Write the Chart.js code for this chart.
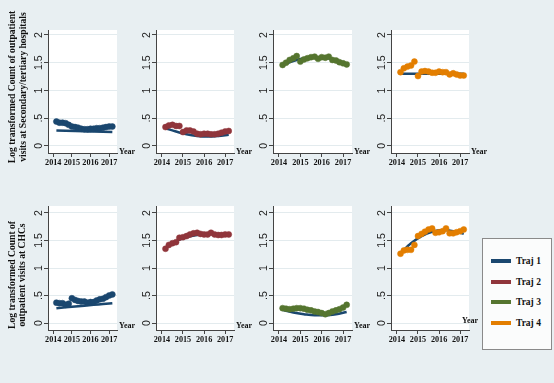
<!DOCTYPE html>
<html><head><meta charset="utf-8">
<script src="https://cdn.jsdelivr.net/npm/chart.js@4"></script>
<style>
html,body{margin:0;padding:0;background:#e8eff2;}
#wrap{position:relative;width:554px;height:383px;overflow:hidden;background:#e8eff2;}
canvas{position:absolute;left:0;top:0;}
#legend{position:absolute;left:482px;top:238px;width:70px;height:112px;border:1px solid #8a8a8a;background:#fbfcfc;box-sizing:border-box;}
.item{position:absolute;left:8px;height:14px;display:flex;align-items:center;font:bold 9.5px "Liberation Serif",serif;color:#111;white-space:nowrap;}
.sw{width:20px;height:4px;margin-right:5px;}
</style></head>
<body><div id="wrap"><div id="legend"></div></div>
<script>
// ---------- data ----------
const trajNames = ["Traj 1","Traj 2","Traj 3","Traj 4"];
const trajColors = ["#1a476f","#90353b","#55752f","#e37e00"];
const fitColor = "#1a476f";
const months = [2014.17,2014.33,2014.5,2014.67,2014.83,2015.0,2015.17,2015.33,2015.5,2015.67,2015.83,2016.0,2016.17,2016.33,2016.5,2016.67,2016.83,2017.0,2017.17];
const fitYears = [2014.17,2014.67,2015.17,2015.67,2016.17,2016.67,2017.17];
const xTickYears = [2014,2015,2016,2017];
const yTickValues = [0,0.5,1,1.5,2];
const yTickLabels = ["0",".5","1","1.5","2"];
const xTitle = "Year";
const rowTitles = [["Log transformed Count of outpatient","visits at Secondary/tertiary hospitals"],["Log transformed Count of","outpatient visits at CHCs"]];

// Secondary/tertiary hospitals (observed means and fitted trajectories)
const hospObs1 = [0.44,0.42,0.42,0.41,0.38,0.35,0.34,0.33,0.31,0.30,0.30,0.31,0.31,0.32,0.32,0.33,0.34,0.35,0.35];
const hospFit1 = [0.28,0.275,0.27,0.265,0.26,0.255,0.25];
const hospObs2 = [0.34,0.37,0.38,0.36,0.36,0.25,0.28,0.28,0.26,0.22,0.21,0.22,0.22,0.21,0.21,0.22,0.24,0.26,0.27];
const hospFit2 = [0.32,0.26,0.21,0.18,0.17,0.18,0.20];
const hospObs3 = [1.46,1.50,1.55,1.58,1.62,1.52,1.56,1.58,1.60,1.61,1.57,1.60,1.59,1.61,1.55,1.54,1.51,1.49,1.47];
const hospFit3 = [1.46,1.53,1.58,1.60,1.59,1.55,1.48];
const hospObs4 = [1.33,1.40,1.43,1.45,1.52,1.26,1.34,1.35,1.34,1.32,1.32,1.34,1.33,1.33,1.29,1.31,1.29,1.27,1.27];
const hospFit4 = [1.30,1.30,1.30,1.30,1.30,1.30,1.30];
// CHCs
const chcObs1 = [0.37,0.36,0.36,0.33,0.35,0.45,0.42,0.40,0.39,0.39,0.37,0.38,0.38,0.41,0.43,0.44,0.47,0.50,0.52];
const chcFit1 = [0.27,0.285,0.30,0.315,0.33,0.345,0.36];
const chcObs2 = [1.35,1.42,1.45,1.47,1.55,1.56,1.58,1.61,1.63,1.64,1.62,1.61,1.61,1.64,1.61,1.60,1.60,1.61,1.61];
const chcFit2 = [1.37,1.49,1.56,1.60,1.62,1.62,1.61];
const chcObs3 = [0.27,0.26,0.25,0.26,0.27,0.27,0.26,0.24,0.23,0.21,0.20,0.18,0.16,0.18,0.21,0.23,0.25,0.28,0.33];
const chcFit3 = [0.24,0.19,0.16,0.14,0.14,0.16,0.20];
const chcObs4 = [1.26,1.32,1.33,1.33,1.42,1.58,1.62,1.66,1.70,1.72,1.64,1.65,1.67,1.72,1.63,1.63,1.65,1.67,1.70];
const chcFit4 = [1.27,1.45,1.58,1.66,1.69,1.67,1.62];

const obsByRow = [[hospObs1,hospObs2,hospObs3,hospObs4],[chcObs1,chcObs2,chcObs3,chcObs4]];
const fitByRow = [[hospFit1,hospFit2,hospFit3,hospFit4],[chcFit1,chcFit2,chcFit3,chcFit4]];

// ---------- layout ----------
const W = 554, H = 383;
const rowsGeo = [{top:30,bottom:153,yMin:-0.127,yMax:2.09},{top:206,bottom:330,yMin:-0.127,yMax:2.127}];
const colsGeo = [{left:48,right:117},{left:156,right:234},{left:273,right:352},{left:391,right:469}];
const xMin = 2013.72, xMax = 2017.42;
const yAxisW = 4, xAxisH = 20;
const axisColor = "#444";
const gridColor = "#e3ebee";

// legend
const leg = document.getElementById('legend');
const legRows = [23,44,64,85];
trajNames.forEach((n,i)=>{
  const d = document.createElement('div'); d.className='item'; d.style.top=(legRows[i]-7-1)+'px';
  const s = document.createElement('div'); s.className='sw'; s.style.background=trajColors[i];
  const t = document.createElement('span'); t.textContent=n;
  d.appendChild(s); d.appendChild(t); leg.appendChild(d);
});

function panelPlugin(r,c){
  return {
    id:'panel'+r+c,
    beforeDraw(chart){
      const a = chart.chartArea, ctx = chart.ctx;
      ctx.save(); ctx.fillStyle='#ffffff'; ctx.fillRect(a.left,a.top,a.right-a.left,a.bottom-a.top); ctx.restore();
    },
    afterDraw(chart){
      const a = chart.chartArea, ctx = chart.ctx, ys = chart.scales.y;
      ctx.save();
      ctx.fillStyle='#222'; ctx.font='10.5px "Liberation Sans", sans-serif';
      ctx.textAlign='center'; ctx.textBaseline='middle';
      yTickValues.forEach((v,i)=>{
        const py = ys.getPixelForValue(v);
        ctx.save(); ctx.translate(a.left-9, py); ctx.rotate(-Math.PI/2);
        ctx.fillText(yTickLabels[i],0,0); ctx.restore();
      });
      // x title
      ctx.fillStyle='#111'; ctx.font='bold 8px "Liberation Serif", serif';
      ctx.textAlign='left'; ctx.textBaseline='middle';
      let tx = a.right+2, ty = (r===0)? a.bottom-1 : a.bottom-4;
      if (r===1 && c===3){ tx = a.right-7; ty = a.bottom-9; }
      ctx.fillText(xTitle, tx, ty);
      // row title
      if (c===0){
        ctx.font='bold 9.6px "Liberation Serif", serif'; ctx.fillStyle='#111';
        ctx.textAlign='center';
        const cy = (r===0)? 87 : 275;
        const xs = (r===0)? [12.5,24] : [12.5,22.5];
        rowTitles[r].forEach((line,k)=>{
          ctx.save(); ctx.translate(xs[k], cy); ctx.rotate(-Math.PI/2);
          ctx.fillText(line,0,0); ctx.restore();
        });
      }
      ctx.restore();
    }
  };
}

const wrap = document.getElementById('wrap');
for (let r=0;r<2;r++){
  for (let c=0;c<4;c++){
    const cv = document.createElement('canvas');
    cv.width=W; cv.height=H; cv.style.width=W+'px'; cv.style.height=H+'px';
    wrap.insertBefore(cv, leg);
    const rg = rowsGeo[r], cg = colsGeo[c];
    new Chart(cv.getContext('2d'), {
      type:'scatter',
      data:{datasets:[
        {label:trajNames[c], data:months.map((m,i)=>({x:m,y:obsByRow[r][c][i]})),
          showLine:false, pointRadius:3, pointBorderWidth:0.5,
          pointBackgroundColor:trajColors[c], pointBorderColor:trajColors[c], order:0},
        {label:'fit', data:fitYears.map((m,i)=>({x:m,y:fitByRow[r][c][i]})),
          showLine:true, pointRadius:0, borderColor:fitColor, borderWidth:2.5,
          tension:0.4, cubicInterpolationMode:'monotone', order:1}
      ]},
      options:{
        responsive:false, animation:false, devicePixelRatio:1, events:[],
        layout:{padding:{left:cg.left-yAxisW, right:W-cg.right, top:rg.top, bottom:H-rg.bottom-xAxisH}},
        plugins:{legend:{display:false}, tooltip:{enabled:false}, title:{display:false}},
        scales:{
          x:{type:'linear', position:'bottom', min:xMin, max:xMax,
            afterBuildTicks:s=>{s.ticks=xTickYears.map(v=>({value:v}));},
            afterFit:s=>{s.height=xAxisH;},
            ticks:{display:true, autoSkip:false, maxRotation:0, minRotation:0, padding:1,
              color:'#111', font:{family:'"Liberation Serif", serif', weight:'bold', size:8.2},
              callback:v=>String(v)},
            grid:{drawOnChartArea:false, drawTicks:true, tickLength:4, tickColor:axisColor},
            border:{display:true, color:axisColor, width:1}},
          y:{type:'linear', position:'left', min:rg.yMin, max:rg.yMax,
            afterBuildTicks:s=>{s.ticks=yTickValues.map(v=>({value:v}));},
            afterFit:s=>{s.width=yAxisW;},
            ticks:{display:false},
            grid:{color:gridColor, lineWidth:1, drawTicks:true, tickLength:4, tickColor:axisColor},
            border:{display:true, color:axisColor, width:1}}
        }
      },
      plugins:[panelPlugin(r,c)]
    });
  }
}
</script>
</body></html>
